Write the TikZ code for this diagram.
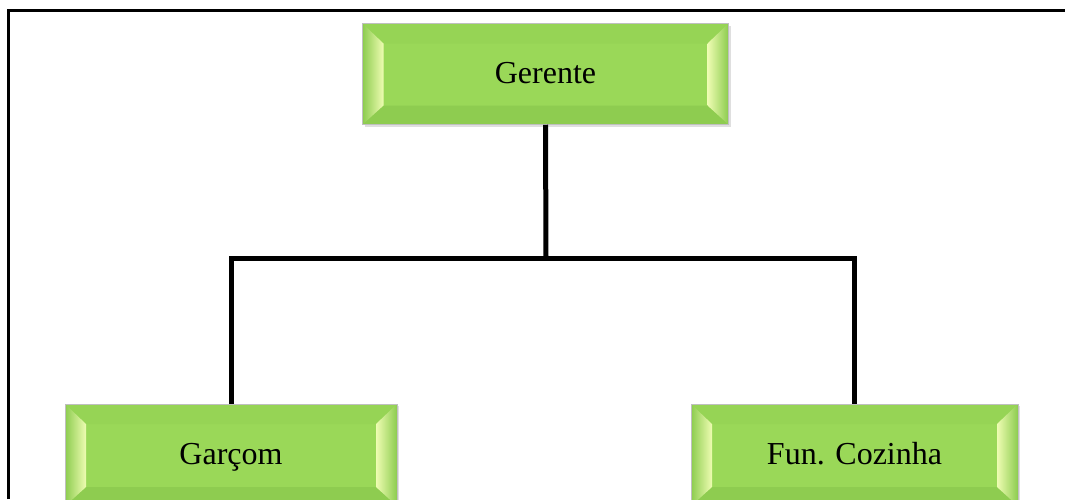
\documentclass[tikz,border=0pt]{standalone}
\usepackage{fontspec}
\setmainfont{Liberation Serif}
\usetikzlibrary{shadows,calc}
\definecolor{face}{RGB}{154,216,88}
\definecolor{bevtop}{RGB}{150,212,85}
\definecolor{bevbot}{RGB}{142,204,80}
\definecolor{bevpale}{RGB}{238,252,178}
\definecolor{bevmid}{RGB}{185,230,120}
\definecolor{bevout}{RGB}{140,204,78}
\tikzset{
  bevelbox/.style={rectangle, fill=face, draw=black!25, line width=0.5pt,
    font=\fontsize{32}{38}\selectfont, text=black,
    text height=21pt, text depth=2pt,
    drop shadow={opacity=0.25, shadow xshift=2pt, shadow yshift=-2pt},
    path picture={
      \coordinate (pnw) at (path picture bounding box.north west);
      \coordinate (pse) at (path picture bounding box.south east);
      \coordinate (pne) at (path picture bounding box.north east);
      \coordinate (psw) at (path picture bounding box.south west);
      \coordinate (inw) at ($(pnw)+(21pt,-20pt)$);
      \coordinate (ine) at ($(pne)+(-21pt,-20pt)$);
      \coordinate (ise) at ($(pse)+(-21pt,19pt)$);
      \coordinate (isw) at ($(psw)+(21pt,19pt)$);
      \fill[bevtop] (pnw) -- (pne) -- (ine) -- (inw) -- cycle;
      \fill[bevbot] (psw) -- (pse) -- (ise) -- (isw) -- cycle;
      \shade[left color=bevout, middle color=bevmid, right color=bevpale] (pnw) -- (inw) -- (isw) -- (psw) -- cycle;
      \shade[left color=bevpale, middle color=bevmid, right color=bevout] (pne) -- (ine) -- (ise) -- (pse) -- cycle;
    }},
  link/.style={line width=5pt, draw=black},
  frame/.style={line width=3pt, draw=black}
}
\begin{document}
\begin{tikzpicture}[x=1pt,y=-1pt]
\useasboundingbox (0,0) rectangle (1065,499);
\clip (0,0) rectangle (1065,499);
\coordinate (fa) at (8,499);
\coordinate (fb) at (8,10);
\coordinate (fc) at (1065,10);
\draw[frame] (fa) -- (fb) -- (fc);
\node[bevelbox, minimum width=366pt, minimum height=101pt] (ger) at (545.5,74) {Gerente};
\node[bevelbox, minimum width=332pt, minimum height=102pt] (gar) at (231,455) {Garçom};
\node[bevelbox, minimum width=327pt, minimum height=102pt] (fun) at (854.5,455) {Fun. Cozinha};
\coordinate (j) at (546,258);
\draw[link] (ger.south) -- (j);
\draw[link] (gar.north) |- (j) -| (fun.north);
\end{tikzpicture}
\end{document}
